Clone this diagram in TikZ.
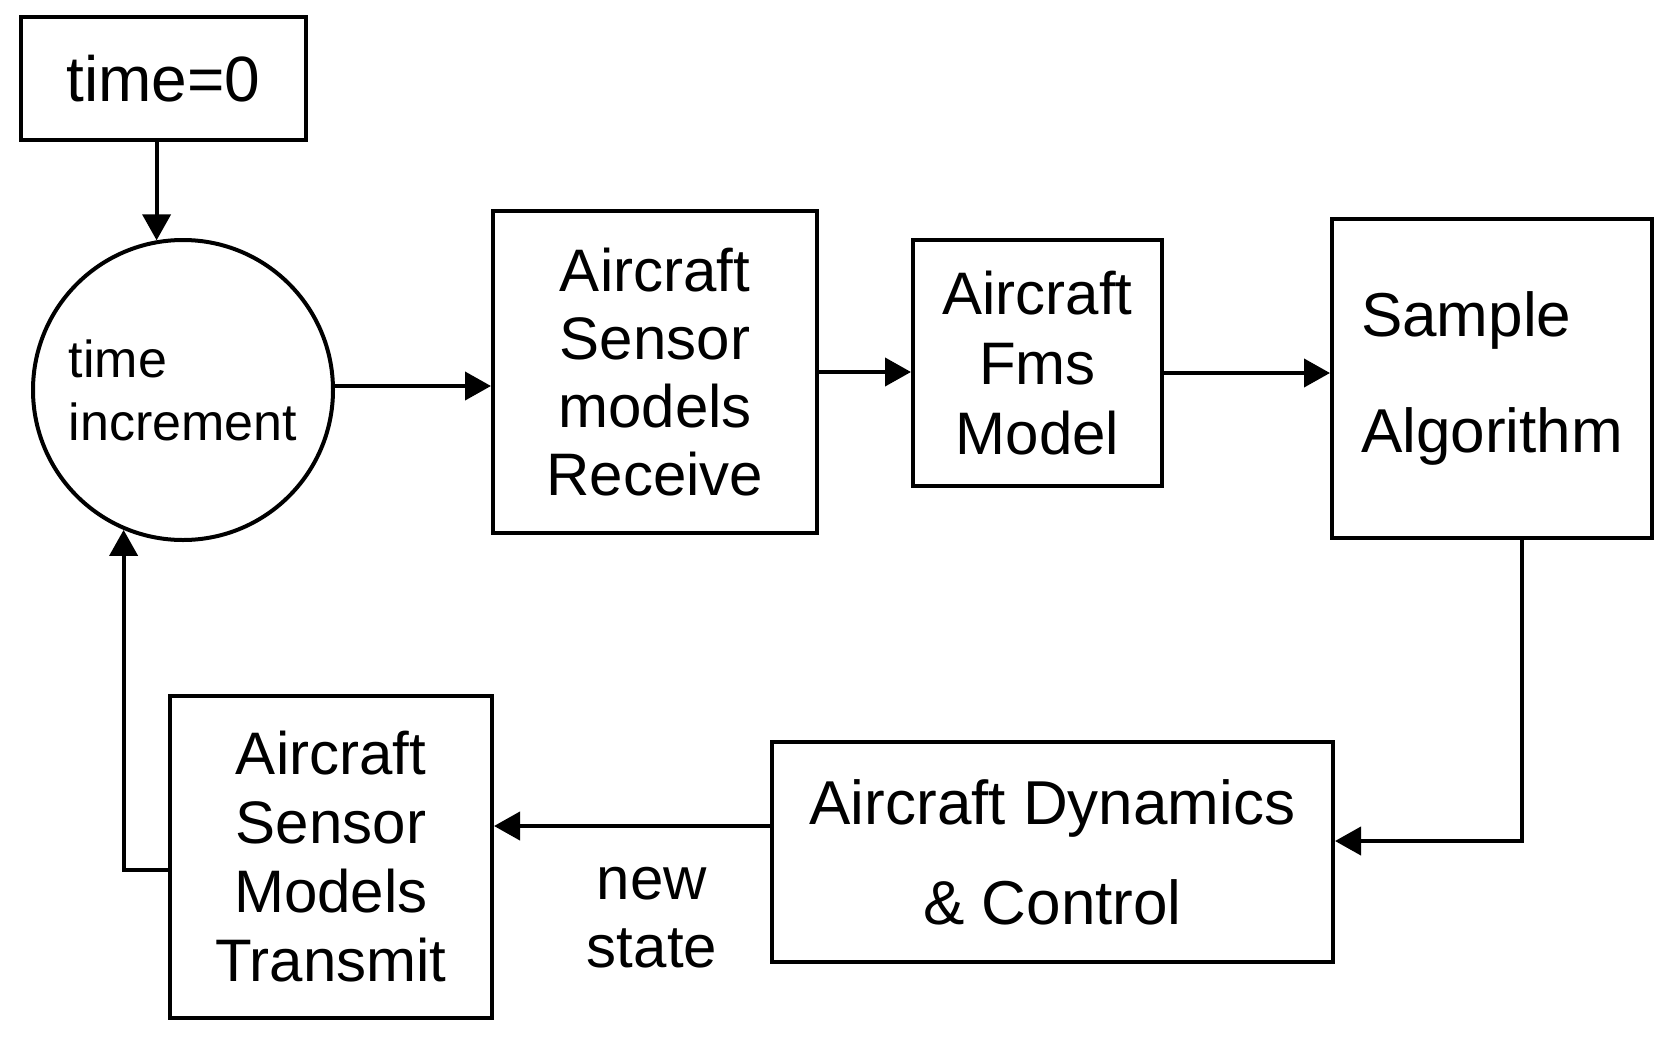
\documentclass[tikz,border=0pt]{standalone}
\usepackage{fontspec}
\setmainfont{Liberation Sans}
\usetikzlibrary{arrows.meta,calc}
\tikzset{
  box/.style={draw, line width=2pt, inner sep=0pt, align=center},
  lbl/.style={font=\fontsize{30}{34}\selectfont},
  arr/.style={line width=2pt, -{Triangle[length=13pt,width=14pt]}},
}
\begin{document}
\begin{tikzpicture}[x=0.5pt,y=-0.5pt]
\useasboundingbox (0,0) rectangle (1664,1044);
\node[box,lbl,minimum width=142.5pt,minimum height=61.5pt,font=\fontsize{32}{36}\selectfont] (t0) at (163.5,78.5) {time=0};
\node[draw,circle,line width=2pt,minimum size=150pt,inner sep=0pt,align=left,font=\fontsize{26}{31.5}\selectfont] (ti) at (183,390) {time\\increment};
\node[box,lbl,minimum width=162pt,minimum height=161pt] (rx) at (655,372) {Aircraft\\Sensor\\models\\Receive};
\node[box,lbl,minimum width=124.5pt,minimum height=123pt,font=\fontsize{30}{35}\selectfont] (fms) at (1037.5,363) {Aircraft\\Fms\\Model};
\node[box,minimum width=160pt,minimum height=159.5pt,align=left,font=\fontsize{31}{58}\selectfont] (sa) at (1492,378.5) {Sample\\Algorithm};
\node[box,minimum width=280.5pt,minimum height=110pt,font=\fontsize{31}{50}\selectfont] (dyn) at (1052.5,852) {Aircraft Dynamics\\\& Control};
\node[box,lbl,minimum width=161pt,minimum height=161pt,font=\fontsize{30}{34.5}\selectfont] (tr) at (331,857) {Aircraft\\Sensor\\Models\\Transmit};
\node[lbl,align=center] (ns) at (652,918) {new\\state};
\draw[arr] (t0.south -| ti.100.8) -- (ti.100.8);
\draw[arr] ($(ti.east)+(0,-4)$) -- ($(ti.east -| rx.west)+(0,-4)$);
\draw[arr] (rx.east) -- (rx.east -| fms.west);
\draw[arr] ($(fms.east)+(0,10)$) -- ($(fms.east -| sa.west)+(0,10)$);
\draw[arr] ($(sa.south)+(30,0)$) |- ($(dyn.east)+(0,-11)$);
\draw[arr] ($(dyn.west)+(0,-26)$) -- ($(dyn.west -| tr.east)+(0,-26)$);
\draw[arr] ($(tr.west)+(0,13)$) -| (ti.247.3);
\end{tikzpicture}
\end{document}
